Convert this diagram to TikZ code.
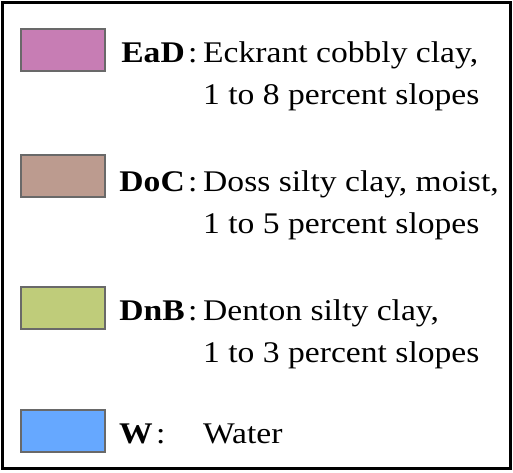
\documentclass[tikz,border=0pt]{standalone}
\usepackage{fontspec}
\setmainfont[FakeStretch=1.12]{Liberation Serif}
\definecolor{eadc}{RGB}{199,125,180}
\definecolor{docc}{RGB}{188,155,143}
\definecolor{dnbc}{RGB}{191,204,122}
\definecolor{wc}{RGB}{102,168,255}
\definecolor{swb}{RGB}{105,105,105}
\tikzset{
  swatch/.style={draw=swb, line width=2.2pt},
  txt/.style={anchor=base west, inner sep=0pt, font=\fontsize{30}{36}\selectfont},
  lbl/.style={txt, anchor=base east, font=\fontsize{30}{36}\selectfont\bfseries},
}
\begin{document}
\begin{tikzpicture}[x=1pt,y=-1pt]
\useasboundingbox (0,0) rectangle (513,472);
\fill[white] (0,0) rectangle (513,472);
\draw[line width=3pt, black] (2.5,2.5) rectangle (510.5,468.5);
% swatches
\draw[swatch, fill=eadc] (21,29) rectangle (105,71);
\draw[swatch, fill=docc] (21,155) rectangle (105,197);
\draw[swatch, fill=dnbc] (21,287) rectangle (105,329);
\draw[swatch, fill=wc] (21,410) rectangle (105,452);
% EaD
\node[lbl] (l1) at (185,62) {EaD};
\node[txt] (c1) at (188,62) {:};
\node[txt] (d1a) at (203,62) {Eckrant cobbly clay,};
\node[txt] (d1b) at (203,104) {1 to 8 percent slopes};
% DoC
\node[lbl] (l2) at (185,191) {DoC};
\node[txt] (c2) at (188,191) {:};
\node[txt] (d2a) at (203,191) {Doss silty clay, moist,};
\node[txt] (d2b) at (203,233) {1 to 5 percent slopes};
% DnB
\node[lbl] (l3) at (185,320) {DnB};
\node[txt] (c3) at (188,320) {:};
\node[txt] (d3a) at (203,320) {Denton silty clay,};
\node[txt] (d3b) at (203,362) {1 to 3 percent slopes};
% W
\node[lbl, anchor=base west] (l4) at (119,443) {W};
\node[txt] (c4) at (156,443) {:};
\node[txt] (d4a) at (203,443) {Water};
\end{tikzpicture}
\end{document}
